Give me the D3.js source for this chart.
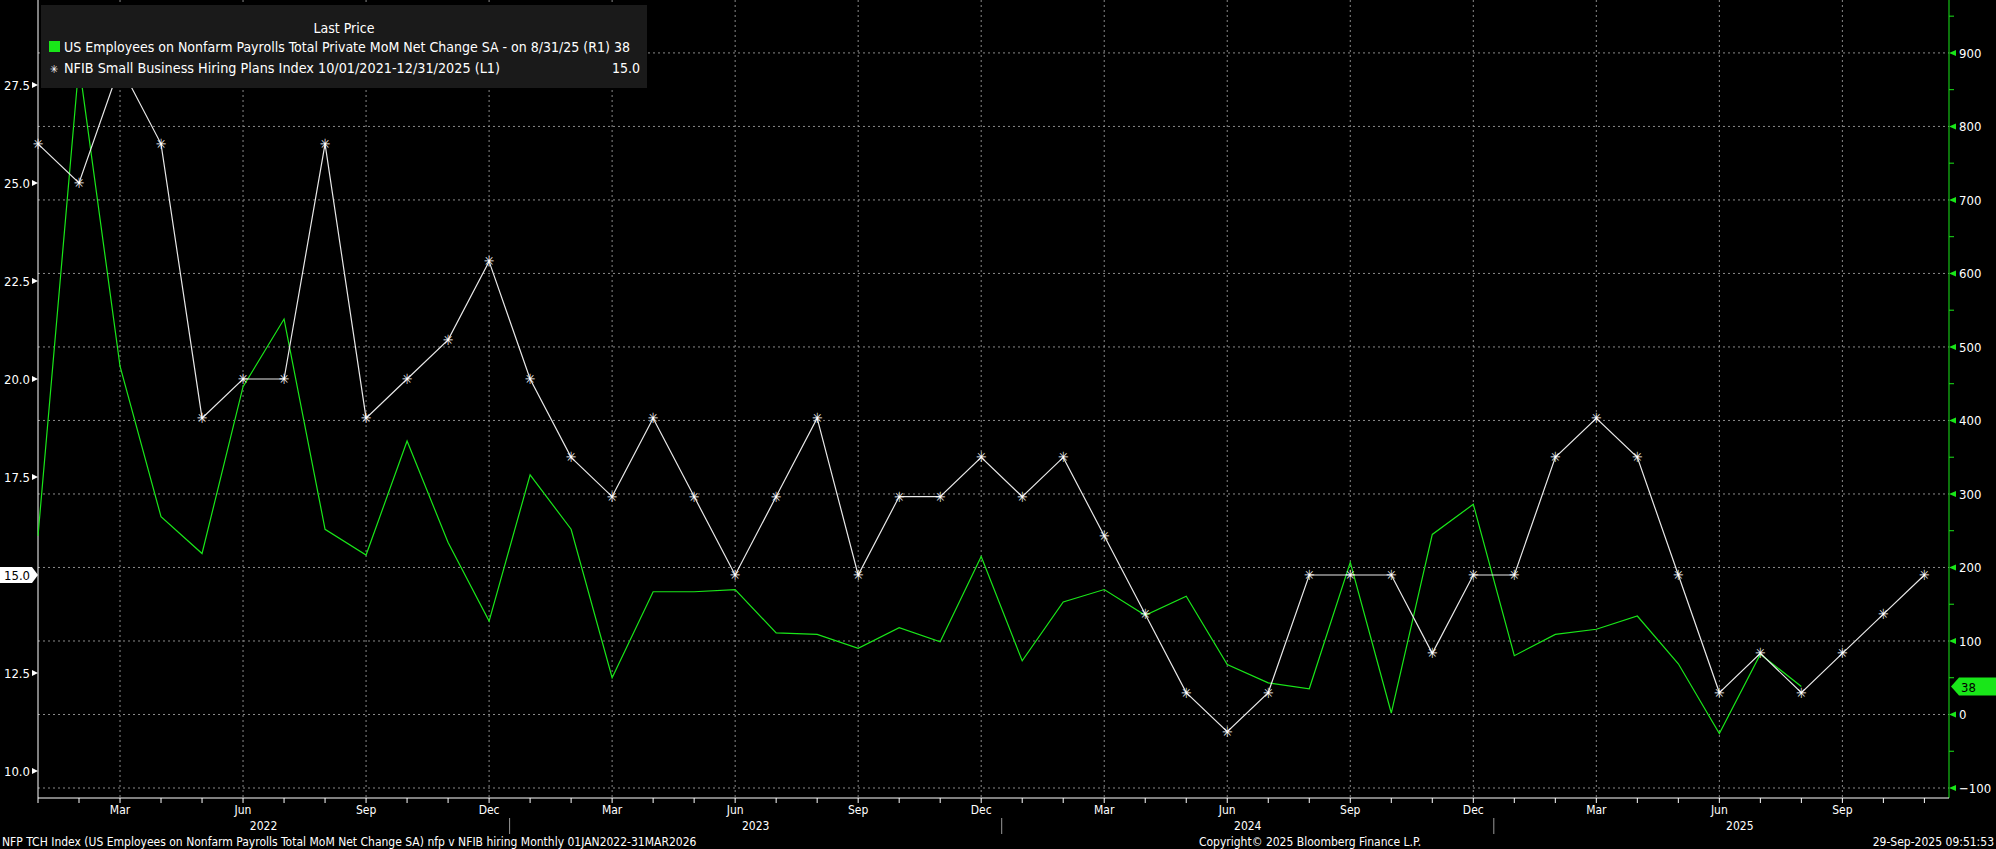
<!DOCTYPE html>
<html><head><meta charset="utf-8">
<script src="https://cdn.jsdelivr.net/npm/d3@7"></script>
<style>
body{margin:0;background:#000;}
text{font-family:"DejaVu Sans Condensed","DejaVu Sans",sans-serif;}
</style></head>
<body><svg id="chart" width="1996" height="849"></svg>
<script>
// month index 0 = Jan 2022
const nfib = [26,25,28,26,19,20,20,26,19,20,21,23, 20,18,17,19,17,15,17,19,15,17,17,18,
              17,18,16,14,12,11,12,15,15,15,13,15, 15,18,19,18,15,12,13,12,13,14,15];
const nfp = [243,885,474,269,219,446,538,252,217,372,234,127, 326,252,50,167,167,170,111,109,90,118,99,215,
             73,153,170,135,161,68,43,35,207,2,245,286, 80,109,116,134,69,-26,82,38];
const leftTicks = [10.0,12.5,15.0,17.5,20.0,22.5,25.0,27.5];
const rightTicks = [-100,0,100,200,300,400,500,600,700,800,900];
const monthNames = ["Mar","Jun","Sep","Dec"];
const years = [2022, 2023, 2024, 2025];

const svg = d3.select("#chart");
const L = 38, R = 1949, T = 0, B = 798;
const green = "#19e619";

var x = d3.scaleLinear().domain([0, 46.6]).range([L, R]);
var yl = d3.scaleLinear().domain([9.31, 29.67]).range([B, T]);
var yr = d3.scaleLinear().domain([-113.6, 972]).range([B, T]);

// grid
svg.append("g").selectAll("line").data(rightTicks).join("line")
  .attr("x1", L).attr("x2", R).attr("y1", d => yr(d)).attr("y2", d => yr(d))
  .attr("stroke", "#8a8a8a").attr("stroke-dasharray", "2,3").attr("stroke-width", 1);
const qm = d3.range(2, 47, 3);
svg.append("g").selectAll("line").data(qm).join("line")
  .attr("x1", d => x(d)).attr("x2", d => x(d)).attr("y1", T).attr("y2", B)
  .attr("stroke", "#8a8a8a").attr("stroke-dasharray", "2,3").attr("stroke-width", 1);

// axes lines
svg.append("line").attr("x1", L).attr("x2", L).attr("y1", T).attr("y2", B).attr("stroke", "#fff");
svg.append("line").attr("x1", R).attr("x2", R).attr("y1", T).attr("y2", B).attr("stroke", green);
svg.append("line").attr("x1", L).attr("x2", R).attr("y1", B).attr("y2", B).attr("stroke", "#fff");

// left ticks
const lg = svg.append("g");
leftTicks.forEach(v => {
  if (v === 15.0) return;
  lg.append("path").attr("d", `M${L},${yl(v)} l-6,-3 v6 z`).attr("fill", "#fff");
  lg.append("text").attr("x", L - 8).attr("y", yl(v) + 5).attr("text-anchor", "end")
    .attr("fill", "#fff").attr("font-size", 13).text(v.toFixed(1));
});
const yv = yl(15.0);
lg.append("path").attr("d", `M${L},${yv} l-6,-8 h-32 v16 h32 z`).attr("fill", "#fff");
lg.append("text").attr("x", 4).attr("y", yv + 5).attr("fill", "#000").attr("font-size", 13).text("15.0");

// right ticks
const rg = svg.append("g");
rightTicks.forEach(v => {
  rg.append("path").attr("d", `M${R},${yr(v)} l7,-3 v6 z`).attr("fill", green);
  rg.append("text").attr("x", R + 10).attr("y", yr(v) + 5).attr("fill", "#fff")
    .attr("font-size", 13).text(v === -100 ? "\u2212100" : v);
});
d3.range(-50, 951, 100).forEach(v => {
  rg.append("line").attr("x1", R).attr("x2", R + 5).attr("y1", yr(v)).attr("y2", yr(v)).attr("stroke", green);
});
const yg = yr(38);
rg.append("path").attr("d", `M${R + 2},${yg} l8,-9 h42 v18 h-42 z`).attr("fill", green);
rg.append("text").attr("x", R + 12).attr("y", yg + 5).attr("fill", "#000").attr("font-size", 13).text("38");

// x ticks
const xg = svg.append("g");
d3.range(0, 47).forEach(i => {
  xg.append("line").attr("x1", x(i)).attr("x2", x(i)).attr("y1", B).attr("y2", B + 5).attr("stroke", "#fff");
});
qm.forEach(i => {
  xg.append("text").attr("x", x(i)).attr("y", B + 16).attr("text-anchor", "middle")
    .attr("fill", "#fff").attr("font-size", 12).text(monthNames[((i - 2) / 3) % 4]);
});
years.forEach((yr0, k) => {
  xg.append("text").attr("x", x(k * 12 + 5.5)).attr("y", B + 32).attr("text-anchor", "middle")
    .attr("fill", "#fff").attr("font-size", 12).text(yr0);
  if (k > 0) xg.append("line").attr("x1", x(k * 12 - 0.5)).attr("x2", x(k * 12 - 0.5))
    .attr("y1", B + 20).attr("y2", B + 36).attr("stroke", "#999");
});

// series
svg.append("path").datum(nfp)
  .attr("d", d3.line().x((d, i) => x(i)).y(d => yr(d)))
  .attr("fill", "none").attr("stroke", green).attr("stroke-width", 1.2);
svg.append("path").datum(nfib)
  .attr("d", d3.line().x((d, i) => x(i)).y(d => yl(d)))
  .attr("fill", "none").attr("stroke", "#e8e8e8").attr("stroke-width", 1.2);
svg.append("g").selectAll("text").data(nfib).join("text")
  .attr("x", (d, i) => x(i)).attr("y", d => yl(d) + 5).attr("text-anchor", "middle")
  .attr("fill", "#fff").attr("font-size", 14).text("\u2733");

// legend
const leg = svg.append("g");
leg.append("rect").attr("x", 41).attr("y", 5).attr("width", 606).attr("height", 83).attr("fill", "#1a1a1a");
leg.append("text").attr("x", 344).attr("y", 33).attr("text-anchor", "middle").attr("fill", "#fff")
  .attr("font-size", 14).text("Last Price");
leg.append("rect").attr("x", 49).attr("y", 41).attr("width", 11).attr("height", 11).attr("fill", green);
leg.append("text").attr("x", 64).attr("y", 52).attr("fill", "#fff").attr("font-size", 14)
  .attr("textLength", 566).attr("lengthAdjust", "spacingAndGlyphs")
  .text("US Employees on Nonfarm Payrolls Total Private MoM Net Change SA -  on 8/31/25  (R1) 38");
leg.append("text").attr("x", 54).attr("y", 73).attr("text-anchor", "middle").attr("fill", "#fff").attr("font-size", 11).text("\u2733");
leg.append("text").attr("x", 64).attr("y", 73).attr("fill", "#fff").attr("font-size", 14)
  .attr("textLength", 436).attr("lengthAdjust", "spacingAndGlyphs")
  .text("NFIB Small Business Hiring Plans Index 10/01/2021-12/31/2025  (L1)");
leg.append("text").attr("x", 640).attr("y", 73).attr("text-anchor", "end").attr("fill", "#fff").attr("font-size", 14).text("15.0");

// footer
svg.append("text").attr("x", 2).attr("y", 846).attr("fill", "#fff").attr("font-size", 12)
  .text("NFP TCH Index (US Employees on Nonfarm Payrolls Total MoM Net Change SA) nfp v NFIB hiring  Monthly 01JAN2022-31MAR2026");
svg.append("text").attr("x", 1310).attr("y", 846).attr("text-anchor", "middle").attr("fill", "#fff").attr("font-size", 12)
  .text("Copyright\u00a9 2025 Bloomberg Finance L.P.");
svg.append("text").attr("x", 1994).attr("y", 846).attr("text-anchor", "end").attr("fill", "#fff").attr("font-size", 12)
  .text("29-Sep-2025 09:51:53");
</script></body></html>
